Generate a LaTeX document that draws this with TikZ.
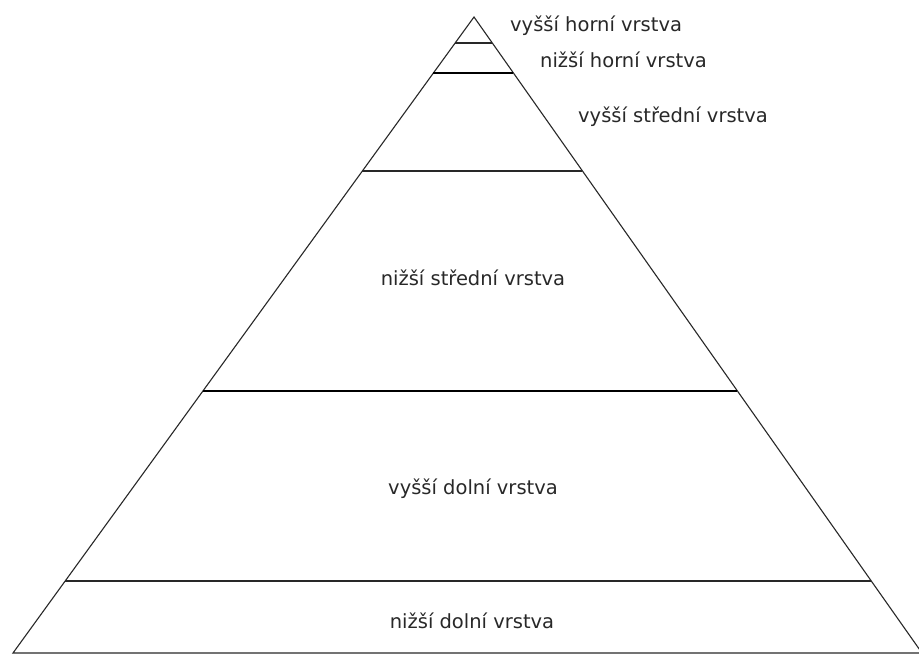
\documentclass[tikz,border=0pt]{standalone}
\usepackage{fontspec}
\setmainfont{DejaVu Sans}
\usetikzlibrary{calc}
\definecolor{ink}{RGB}{40,40,40}
\tikzset{
  side/.style={draw=ink, line width=1.1pt},
  layer/.style={draw=ink, line width=1.1pt},
  boldlayer/.style={draw=black, line width=2pt},
  lbl/.style={inner sep=0pt, text=ink, font=\fontsize{19.5}{22}\selectfont}
}
\begin{document}
\begin{tikzpicture}[x=1pt, y=-1pt]
\useasboundingbox (0,0) rectangle (919,656);
\fill[white] (0,0) rectangle (919,656);
\coordinate (apex) at (474,17);
\coordinate (bl) at (13,653);
\coordinate (br) at (922,653);
% triangle
\draw[side, line join=miter] (bl) -- (apex) -- (br) -- cycle;
% layer boundaries (fraction of height from apex)
\foreach \yy/\st in {43/layer, 73/boldlayer, 171/layer, 391/boldlayer, 581/layer}{
  \pgfmathsetmacro{\f}{(\yy-17)/636}
  \draw[\st] ($(apex)!\f!(bl)$) -- ($(apex)!\f!(br)$);
}
% labels
\node[lbl, anchor=base west] (l1) at (510,31) {vyšší horní vrstva};
\node[lbl, anchor=base west] (l2) at (540,67) {nižší horní vrstva};
\node[lbl, anchor=base west] (l3) at (578,122) {vyšší střední vrstva};
\node[lbl, anchor=base] (l4) at (473,285) {nižší střední vrstva};
\node[lbl, anchor=base] (l5) at (473,494) {vyšší dolní vrstva};
\node[lbl, anchor=base] (l6) at (472,628) {nižší dolní vrstva};
\end{tikzpicture}
\end{document}
